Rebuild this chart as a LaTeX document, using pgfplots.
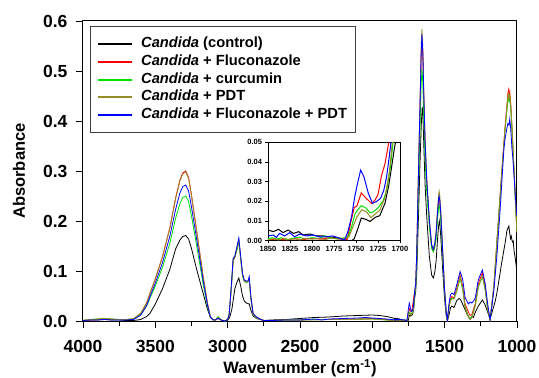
\documentclass[border=0pt]{standalone}
\usepackage{fontspec}
\setmainfont{Liberation Sans}
\usepackage{pgfplots}
\usepackage{pgfplotstable}
\pgfplotsset{compat=1.18}

\definecolor{cK}{RGB}{0,0,0}
\definecolor{cR}{RGB}{255,0,0}
\definecolor{cG}{RGB}{0,225,0}
\definecolor{cO}{RGB}{150,140,40}
\definecolor{cB}{RGB}{0,0,255}

\pgfplotstableread{
x y
4000 0.001
3950 0.002
3900 0.002
3850 0.003
3800 0.002
3750 0.002
3700 0.001
3650 0.001
3600 0.003
3560 0.009
3538 0.015
3500 0.034
3450 0.065
3400 0.103
3360 0.144
3330 0.162
3310 0.169
3290 0.171
3270 0.164
3250 0.145
3215 0.104
3170 0.056
3140 0.024
3120 0.008
3100 0.003
3085 0.002
3066 0.005
3045 0.002
3020 0.000
3000 0.001
2985 0.008
2970 0.025
2960 0.045
2950 0.065
2935 0.078
2923 0.086
2910 0.070
2897 0.050
2885 0.040
2872 0.036
2860 0.035
2851 0.034
2840 0.022
2824 0.010
2800 0.005
2777 0.003
2750 0.001
2700 0.002
2600 0.003
2500 0.005
2400 0.007
2300 0.008
2200 0.010
2100 0.011
2000 0.012
1950 0.011
1900 0.009
1870 0.007
1850 0.0054
1844 0.0046
1838 0.0058
1833 0.0041
1827 0.0054
1821 0.0037
1815 0.0046
1810 0.0029
1802 0.0034
1795 0.0024
1787 0.0024
1780 0.0017
1772 0.0017
1764 0.0007
1760 0.0
1755 0.0
1752 0.001
1748 0.006
1744 0.0115
1739 0.0109
1734 0.0098
1728 0.0119
1723 0.0127
1717 0.0191
1713 0.0275
1709 0.039
1706 0.048
1700 0.060
1693 0.095
1682 0.20
1670 0.32
1662 0.39
1655 0.428
1650 0.41
1645 0.36
1635 0.27
1624 0.21
1606 0.13
1590 0.092
1578 0.086
1568 0.098
1559 0.12
1550 0.16
1542 0.19
1537 0.20
1533 0.192
1527 0.17
1513 0.10
1502 0.05
1490 0.012
1481 0.000
1470 0.012
1460 0.026
1451 0.030
1435 0.027
1416 0.041
1400 0.045
1390 0.043
1370 0.030
1344 0.013
1324 0.003
1312 0.009
1301 0.007
1289 0.017
1267 0.030
1239 0.042
1220 0.032
1197 0.013
1186 0.003
1170 0.020
1150 0.040
1139 0.056
1120 0.090
1105 0.118
1094 0.136
1080 0.160
1070 0.180
1062 0.186
1056 0.190
1050 0.175
1045 0.165
1040 0.170
1032 0.158
1026 0.160
1020 0.140
1012 0.125
1005 0.110
1000 0.096
}\tblK

\pgfplotstableread{
x y
4000 0.001
3950 0.002
3900 0.003
3850 0.004
3800 0.003
3750 0.003
3700 0.003
3650 0.004
3600 0.015
3560 0.036
3538 0.054
3500 0.084
3450 0.129
3400 0.186
3360 0.246
3330 0.282
3310 0.296
3290 0.300
3270 0.287
3250 0.252
3215 0.182
3170 0.090
3140 0.036
3120 0.009
3100 0.002
3085 0.002
3066 0.006
3045 0.002
3020 0.000
3000 0.003
2990 0.012
2975 0.065
2962 0.120
2950 0.127
2935 0.145
2923 0.160
2910 0.125
2897 0.092
2885 0.080
2872 0.078
2860 0.079
2851 0.084
2840 0.048
2824 0.014
2800 0.007
2777 0.004
2750 0.001
2700 0.001
2600 0.002
2500 0.002
2400 0.003
2300 0.003
2200 0.004
2100 0.004
2000 0.005
1950 0.004
1900 0.003
1870 0.001
1850 0.0005
1840 0.0008
1830 0.0004
1820 0.0010
1810 0.0006
1800 0.0012
1790 0.0008
1780 0.0015
1770 0.0010
1760 0.0007
1756 0.0092
1752 0.0168
1749 0.0176
1744 0.0243
1739 0.0218
1732 0.0188
1728 0.0209
1725 0.0234
1721 0.033
1717 0.0392
1713 0.0494
1707 0.058
1700 0.075
1693 0.134
1682 0.279
1670 0.430
1662 0.532
1657 0.565
1650 0.522
1645 0.453
1635 0.350
1624 0.278
1606 0.198
1590 0.148
1578 0.140
1568 0.152
1559 0.172
1550 0.211
1542 0.240
1538 0.245
1533 0.236
1527 0.212
1513 0.133
1502 0.067
1490 0.019
1481 0.001
1470 0.030
1460 0.045
1451 0.049
1435 0.046
1416 0.066
1393 0.092
1375 0.069
1359 0.034
1336 0.018
1324 0.011
1312 0.013
1289 0.034
1267 0.075
1239 0.097
1220 0.069
1202 0.027
1186 0.003
1160 0.070
1139 0.160
1117 0.250
1105 0.300
1090 0.360
1082 0.390
1070 0.430
1063 0.455
1059 0.462
1055 0.448
1050 0.458
1042 0.430
1035 0.390
1024 0.323
1015 0.270
1008 0.220
1000 0.176
}\tblR

\pgfplotstableread{
x y
4000 0.001
3950 0.003
3900 0.004
3850 0.005
3800 0.004
3750 0.003
3700 0.003
3650 0.004
3600 0.013
3560 0.030
3538 0.045
3500 0.070
3450 0.108
3400 0.155
3360 0.205
3330 0.235
3310 0.247
3290 0.250
3270 0.239
3250 0.210
3215 0.152
3170 0.075
3140 0.030
3120 0.008
3100 0.002
3085 0.002
3066 0.009
3045 0.002
3020 0.000
3000 0.003
2990 0.012
2975 0.065
2962 0.122
2950 0.128
2935 0.143
2923 0.158
2910 0.124
2897 0.090
2885 0.079
2872 0.077
2860 0.078
2851 0.082
2840 0.046
2824 0.013
2800 0.006
2777 0.004
2750 0.001
2700 0.001
2600 0.002
2500 0.002
2400 0.003
2300 0.003
2200 0.003
2100 0.004
2000 0.004
1950 0.003
1900 0.002
1870 0.0015
1850 0.0010
1845 0.0015
1840 0.0008
1835 0.0015
1828 0.0005
1822 0.0012
1815 0.0018
1808 0.0010
1800 0.0015
1792 0.0012
1785 0.0025
1780 0.0015
1774 0.0010
1768 0.0012
1762 0.0015
1759 0.002
1755 0.0071
1751 0.0137
1748 0.0157
1744 0.0178
1739 0.0167
1734 0.0142
1730 0.0147
1725 0.0167
1719 0.0204
1715 0.026
1711 0.037
1708 0.0494
1700 0.068
1693 0.12
1682 0.25
1670 0.385
1662 0.475
1657 0.504
1650 0.47
1645 0.41
1635 0.32
1624 0.258
1606 0.19
1590 0.145
1578 0.138
1568 0.148
1559 0.165
1550 0.200
1542 0.227
1538 0.232
1533 0.223
1527 0.200
1513 0.126
1502 0.064
1490 0.018
1481 0.001
1470 0.028
1460 0.042
1451 0.045
1435 0.045
1416 0.060
1393 0.086
1375 0.062
1359 0.028
1336 0.010
1324 0.005
1312 0.008
1289 0.030
1267 0.068
1239 0.089
1220 0.062
1202 0.022
1186 0.002
1160 0.068
1139 0.155
1117 0.245
1105 0.295
1090 0.352
1082 0.385
1070 0.420
1063 0.442
1059 0.450
1055 0.440
1050 0.445
1042 0.420
1035 0.385
1024 0.320
1015 0.265
1008 0.220
1000 0.178
}\tblG

\pgfplotstableread{
x y
4000 0.001
3950 0.003
3900 0.004
3850 0.005
3800 0.004
3750 0.003
3700 0.003
3650 0.005
3600 0.016
3560 0.037
3538 0.055
3500 0.085
3450 0.129
3400 0.185
3360 0.244
3330 0.280
3310 0.294
3290 0.298
3270 0.285
3250 0.250
3215 0.181
3170 0.089
3140 0.036
3120 0.009
3100 0.002
3085 0.002
3066 0.007
3045 0.002
3020 0.000
3000 0.003
2990 0.012
2975 0.066
2962 0.124
2950 0.130
2935 0.147
2923 0.162
2910 0.126
2897 0.092
2885 0.080
2872 0.078
2860 0.079
2851 0.083
2840 0.047
2824 0.013
2800 0.006
2777 0.004
2750 0.001
2700 0.001
2600 0.002
2500 0.002
2400 0.002
2300 0.003
2200 0.003
2100 0.003
2000 0.004
1950 0.003
1900 0.002
1870 0.001
1850 0.0005
1844 0.0010
1838 0.0004
1832 0.0012
1826 0.0006
1820 0.0010
1814 0.0004
1808 0.0012
1800 0.0008
1792 0.0012
1785 0.0006
1778 0.0014
1770 0.0008
1762 0.0010
1758 0.002
1755 0.0054
1749 0.012
1743.5 0.0157
1738 0.0147
1733 0.0117
1728 0.0137
1723 0.0154
1717 0.022
1712 0.035
1709 0.049
1700 0.072
1693 0.135
1682 0.285
1670 0.443
1662 0.550
1657 0.584
1650 0.540
1645 0.468
1635 0.362
1624 0.287
1606 0.205
1590 0.153
1578 0.144
1568 0.157
1559 0.180
1550 0.222
1542 0.253
1538 0.260
1533 0.249
1527 0.224
1513 0.140
1502 0.070
1490 0.020
1481 0.001
1470 0.027
1460 0.041
1451 0.044
1435 0.044
1416 0.061
1393 0.088
1375 0.063
1359 0.027
1336 0.008
1324 0.004
1312 0.006
1289 0.029
1267 0.069
1239 0.090
1220 0.063
1202 0.022
1186 0.002
1160 0.069
1139 0.158
1117 0.248
1105 0.298
1090 0.356
1082 0.387
1070 0.425
1063 0.450
1059 0.455
1055 0.445
1050 0.452
1042 0.425
1035 0.388
1024 0.322
1015 0.268
1008 0.222
1000 0.178
}\tblO

\pgfplotstableread{
x y
4000 0.001
3950 0.002
3900 0.002
3850 0.003
3800 0.002
3750 0.002
3700 0.002
3650 0.003
3600 0.012
3560 0.031
3538 0.048
3500 0.076
3450 0.117
3400 0.169
3360 0.223
3330 0.256
3310 0.269
3290 0.272
3270 0.260
3250 0.228
3215 0.165
3170 0.082
3140 0.033
3120 0.008
3100 0.002
3085 0.002
3066 0.006
3045 0.002
3020 0.000
3000 0.003
2990 0.012
2985 0.030
2975 0.070
2962 0.125
2950 0.130
2935 0.150
2923 0.166
2910 0.130
2897 0.095
2885 0.082
2872 0.080
2860 0.080
2851 0.089
2840 0.050
2824 0.015
2800 0.008
2777 0.004
2750 0.001
2700 0.001
2600 0.002
2500 0.002
2400 0.004
2350 0.002
2300 0.004
2200 0.005
2100 0.006
2050 0.007
2000 0.006
1950 0.005
1900 0.004
1870 0.003
1850 0.0024
1844 0.0029
1840.6 0.0017
1836.8 0.0037
1831 0.0024
1825.4 0.0041
1819.7 0.0020
1814 0.0034
1806.5 0.0024
1799 0.0029
1791.4 0.0020
1783.8 0.0020
1776.2 0.0024
1768.7 0.0012
1763 0.0003
1759.2 0.0046
1755 0.0122
1751.4 0.0224
1748.3 0.029
1744.7 0.0359
1741 0.0325
1736 0.0241
1731.2 0.019
1726.6 0.0199
1722 0.0216
1718.3 0.0258
1715.2 0.0325
1712.2 0.0427
1710.3 0.050
1707 0.060
1700 0.075
1693 0.136
1682 0.283
1670 0.437
1662 0.540
1657 0.574
1650 0.530
1645 0.460
1635 0.357
1624 0.283
1606 0.203
1590 0.152
1578 0.143
1568 0.155
1559 0.176
1550 0.215
1542 0.245
1538 0.250
1533 0.240
1527 0.216
1513 0.136
1502 0.069
1490 0.020
1481 0.002
1470 0.035
1460 0.052
1451 0.056
1435 0.053
1416 0.073
1393 0.099
1375 0.083
1359 0.047
1336 0.034
1324 0.038
1312 0.036
1300 0.040
1289 0.045
1267 0.083
1239 0.102
1220 0.075
1202 0.033
1186 0.002
1160 0.060
1139 0.130
1117 0.220
1100 0.300
1090 0.345
1082 0.365
1070 0.385
1063 0.395
1055 0.392
1050 0.404
1045 0.390
1040 0.370
1035 0.345
1030 0.330
1025 0.310
1020 0.290
1015 0.265
1010 0.245
1005 0.225
1000 0.210
}\tblB

\begin{document}
\begin{tikzpicture}
\useasboundingbox (-83pt,-57pt) rectangle (456pt,321pt);
\begin{axis}[
  at={(0pt,0pt)}, anchor=south west,
  scale only axis, width=434pt, height=300pt,
  xmin=1000, xmax=4000, ymin=0, ymax=0.6, x dir=reverse,
  xtick={1000,1500,2000,2500,3000,3500,4000},
  minor xtick={1250,1750,2250,2750,3250,3750},
  ytick={0,0.1,0.2,0.3,0.4,0.5,0.6},
  xtick pos=bottom, ytick pos=left,
  tick align=outside,
  major tick length=7pt, minor tick length=4.5pt,
  every tick/.style={black, line width=0.9pt},
  axis line style={line width=1pt},
  scaled ticks=false,
  /pgf/number format/assume math mode=true,
  ticklabel style={font=\fontsize{17.5}{20}\selectfont\bfseries},
  xticklabel style={/pgf/number format/1000 sep={}, yshift=-9pt},
  yticklabel style={/pgf/number format/.cd, fixed, fixed zerofill, precision=1, /tikz/xshift=-5pt},
  xlabel={Wavenumber (cm\textsuperscript{-1})},
  ylabel={Absorbance},
  label style={font=\fontsize{16.5}{19}\selectfont\bfseries},
  xlabel style={at={(axis description cs:0.5,-0.158)}, anchor=center},
  ylabel style={at={(axis description cs:-0.1475,0.5)}, anchor=center},
]
\addplot[cK, line width=0.8pt, no markers] table {\tblK};
\addplot[cR, line width=0.8pt, no markers] table {\tblR};
\addplot[cG, line width=0.8pt, no markers] table {\tblG};
\addplot[cO, line width=0.8pt, no markers] table {\tblO};
\addplot[cB, line width=0.8pt, no markers] table {\tblB};
% legend
\node[draw=black!75, line width=0.6pt, fill=white, anchor=north west, inner sep=0pt,
  minimum width=265pt, minimum height=106pt] at (axis description cs:0.0161,0.9833) {};
\begin{scope}[every node/.style={anchor=west, inner sep=0pt, text height=10.5pt, text depth=3pt,
  font=\fontsize{14.7}{17}\selectfont\bfseries}]
\draw[cK, line width=1.2pt] (axis description cs:0.0346,0.92333) -- (axis description cs:0.1129,0.92333);
\node at (axis description cs:0.1336,0.92333) {\textit{Candida} (control)};
\draw[cR, line width=1.2pt] (axis description cs:0.0346,0.86333) -- (axis description cs:0.1129,0.86333);
\node at (axis description cs:0.1336,0.86333) {\textit{Candida} + Fluconazole};
\draw[cG, line width=1.2pt] (axis description cs:0.0346,0.80333) -- (axis description cs:0.1129,0.80333);
\node at (axis description cs:0.1336,0.80333) {\textit{Candida} + curcumin};
\draw[cO, line width=1.2pt] (axis description cs:0.0346,0.74667) -- (axis description cs:0.1129,0.74667);
\node at (axis description cs:0.1336,0.74667) {\textit{Candida} + PDT};
\draw[cB, line width=1.2pt] (axis description cs:0.0346,0.68667) -- (axis description cs:0.1129,0.68667);
\node at (axis description cs:0.1336,0.68667) {\textit{Candida} + Fluconazole + PDT};
\end{scope}
\end{axis}

\begin{axis}[
  at={(185pt,80.3pt)}, anchor=south west,
  scale only axis, width=132pt, height=98.4pt,
  xmin=1700, xmax=1850, ymin=0, ymax=0.05, x dir=reverse,
  xtick={1700,1725,1750,1775,1800,1825,1850},
  ytick={0,0.01,0.02,0.03,0.04,0.05},
  xtick pos=bottom, ytick pos=left,
  tick align=outside, major tick length=2.5pt,
  every tick/.style={black, line width=0.7pt},
  axis line style={line width=0.9pt},
  axis background/.style={fill=white},
  scaled ticks=false,
  /pgf/number format/assume math mode=true,
  ticklabel style={font=\fontsize{7.5}{9}\selectfont\bfseries},
  xticklabel style={/pgf/number format/1000 sep={}},
  yticklabel style={/pgf/number format/.cd, fixed, fixed zerofill, precision=2},
]
\addplot[cK, line width=1pt, no markers] table {\tblK};
\addplot[cR, line width=1pt, no markers] table {\tblR};
\addplot[cG, line width=1pt, no markers] table {\tblG};
\addplot[cO, line width=1pt, no markers] table {\tblO};
\addplot[cB, line width=1pt, no markers] table {\tblB};
\end{axis}
\end{tikzpicture}
\end{document}
